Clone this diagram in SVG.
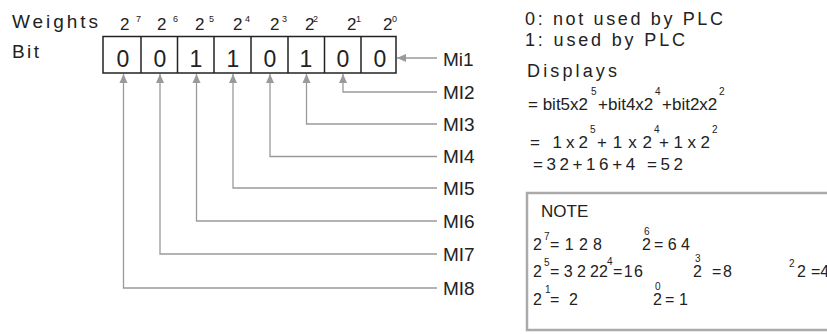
<svg xmlns="http://www.w3.org/2000/svg" width="827" height="334" viewBox="0 0 827 334">
<style>
text{font-family:"Liberation Sans",Arial,sans-serif;fill:#222}
.lbl{font-size:19px}
.rt{font-size:18px}
.mi{font-size:19px}
.dig{font-size:23px;text-anchor:middle}
.w2{font-size:17px}
.sup{font-size:9px}
.eq{font-size:17px}
.nt{font-size:16px}
.ns{font-size:10px}
.con{fill:none;stroke:#9a9a9a;stroke-width:1.3}
.cell{fill:none;stroke:#222;stroke-width:1.5}
</style>
<defs>
<marker id="ah" viewBox="0 0 10 10" refX="10" refY="5" markerWidth="10" markerHeight="9" markerUnits="userSpaceOnUse" orient="auto">
<path d="M0,0.5 L10,5 L0,9.5 z" fill="#9a9a9a"/>
</marker>
</defs>

<g id="headers">
<text class="lbl" x="12" y="28" textLength="86" lengthAdjust="spacing">Weights</text>
<text class="lbl" x="12" y="58" textLength="27" lengthAdjust="spacing">Bit</text>
</g>

<g id="weights">
<text class="w2" x="120" y="30">2</text><text class="sup" x="136" y="22">7</text>
<text class="w2" x="157" y="30">2</text><text class="sup" x="173" y="22">6</text>
<text class="w2" x="195" y="30">2</text><text class="sup" x="209" y="22">5</text>
<text class="w2" x="233" y="30">2</text><text class="sup" x="245" y="22">4</text>
<text class="w2" x="270" y="30">2</text><text class="sup" x="282" y="22">3</text>
<text class="w2" x="305" y="30">2</text><text class="sup" x="313" y="22">2</text>
<text class="w2" x="347" y="30">2</text><text class="sup" x="356" y="22">1</text>
<text class="w2" x="383" y="30">2</text><text class="sup" x="392" y="22">0</text>
</g>

<g id="bits">
<rect class="cell" x="103" y="36.5" width="293" height="36.5"/>
<path class="cell" d="M141,36.5V73 M177.5,36.5V73 M214,36.5V73 M251,36.5V73 M288,36.5V73 M324.5,36.5V73 M361,36.5V73"/>
<text class="dig" x="123" y="67">0</text>
<text class="dig" x="160" y="67">0</text>
<text class="dig" x="196" y="67">1</text>
<text class="dig" x="233" y="67">1</text>
<text class="dig" x="270" y="67">0</text>
<text class="dig" x="306" y="67">1</text>
<text class="dig" x="343" y="67">0</text>
<text class="dig" x="380" y="67">0</text>
</g>

<g id="connectors">
<path class="con" d="M437,58H397" marker-end="url(#ah)"/>
<path class="con" d="M437,92H343V74" marker-end="url(#ah)"/>
<path class="con" d="M437,124H306.5V74" marker-end="url(#ah)"/>
<path class="con" d="M437,156.5H270V74" marker-end="url(#ah)"/>
<path class="con" d="M437,188H233V74" marker-end="url(#ah)"/>
<path class="con" d="M437,221H196.5V74" marker-end="url(#ah)"/>
<path class="con" d="M437,254H160V74" marker-end="url(#ah)"/>
<path class="con" d="M437,288H123.5V74" marker-end="url(#ah)"/>
</g>

<g id="mi-labels">
<text class="mi" x="443" y="66">Mi1</text>
<text class="mi" x="443" y="99">MI2</text>
<text class="mi" x="443" y="131">MI3</text>
<text class="mi" x="443" y="163">MI4</text>
<text class="mi" x="443" y="195">MI5</text>
<text class="mi" x="443" y="228">MI6</text>
<text class="mi" x="443" y="261">MI7</text>
<text class="mi" x="443" y="295">MI8</text>
</g>

<g id="legend">
<text class="rt" x="525" y="25" textLength="198" lengthAdjust="spacing">0: not used by PLC</text>
<text class="rt" x="525" y="46" textLength="160" lengthAdjust="spacing">1: used by PLC</text>
<text class="rt" x="527" y="77" textLength="90" lengthAdjust="spacing">Displays</text>
<text class="eq" x="528" y="110">= bit5x2</text>
<text class="ns" x="591" y="95">5</text>
<text class="eq" x="598" y="110">+bit4x2</text>
<text class="ns" x="655" y="95">4</text>
<text class="eq" x="662" y="110">+bit2x2</text>
<text class="ns" x="719" y="95">2</text>
<text class="eq" x="530" y="148" textLength="58" lengthAdjust="spacing">= 1x2</text>
<text class="ns" x="590" y="133">5</text>
<text class="eq" x="597" y="148" textLength="55" lengthAdjust="spacing">+1x2</text>
<text class="ns" x="654" y="133">4</text>
<text class="eq" x="659" y="148" textLength="51" lengthAdjust="spacing">+1x2</text>
<text class="ns" x="712" y="133">2</text>
<text class="eq" x="533" y="170" textLength="150" lengthAdjust="spacing">=32+16+4 =52</text>
</g>

<g id="note">
<rect x="527" y="193" width="330" height="137" fill="none" stroke="#aaaaaa" stroke-width="2.5"/>
<text x="541" y="217" style="font-size:17px">NOTE</text>
<text class="nt" x="533" y="250">2</text><text class="ns" x="544" y="240">7</text>
<text class="nt" x="550" y="250" textLength="52" lengthAdjust="spacing">=128</text>
<text class="nt" x="642" y="250">2</text><text class="ns" x="644" y="235">6</text>
<text class="nt" x="654" y="250" textLength="36" lengthAdjust="spacing">=64</text>
<text class="nt" x="533" y="277">2</text><text class="ns" x="544" y="266">5</text>
<text class="nt" x="550" y="277" textLength="49" lengthAdjust="spacing">=322</text>
<text class="nt" x="599" y="277">2</text><text class="ns" x="607" y="265">4</text>
<text class="nt" x="613" y="277" textLength="30" lengthAdjust="spacing">=16</text>
<text class="nt" x="693" y="277">2</text><text class="ns" x="695" y="262">3</text>
<text class="nt" x="712" y="277" textLength="20" lengthAdjust="spacing">=8</text>
<text class="ns" x="789" y="267">2</text><text class="nt" x="797" y="277">2</text>
<text class="nt" x="811" y="277">=4</text>
<text class="nt" x="533" y="305">2</text><text class="ns" x="545" y="293">1</text>
<text class="nt" x="550" y="305" textLength="28" lengthAdjust="spacing">=2</text>
<text class="nt" x="653" y="305">2</text><text class="ns" x="655" y="290">0</text>
<text class="nt" x="665" y="305" textLength="23" lengthAdjust="spacing">=1</text>
</g>
</svg>
